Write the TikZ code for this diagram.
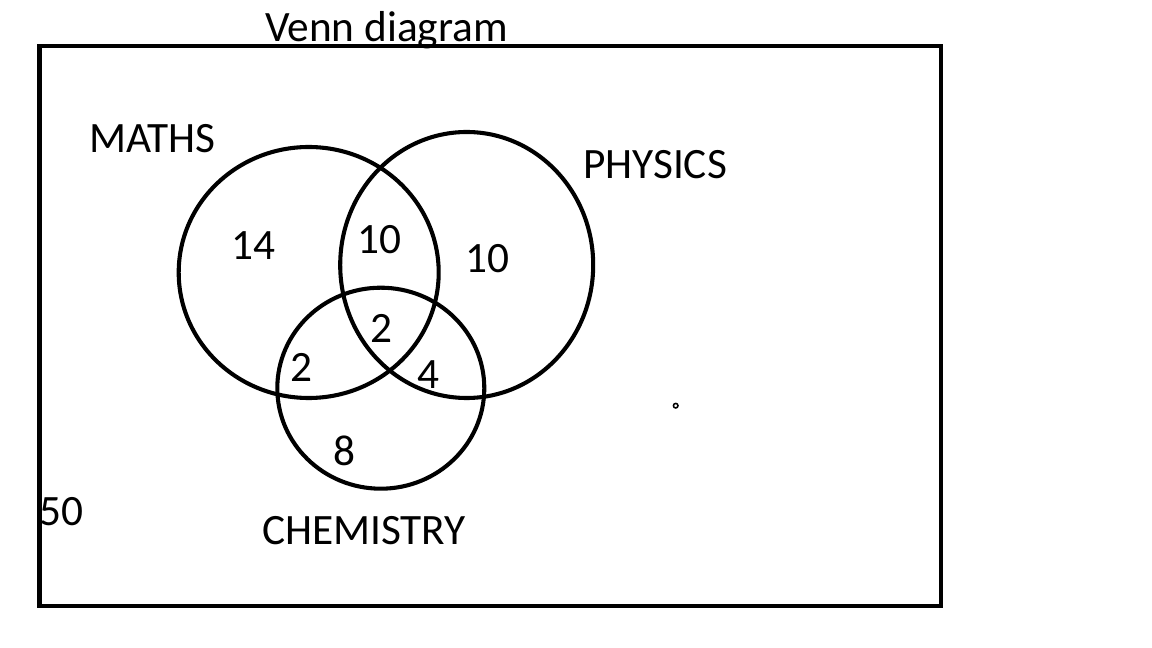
\documentclass[tikz,border=0pt]{standalone}
\usepackage{fontspec}
\setmainfont{Carlito}
\usepackage{tikz}
\usetikzlibrary{positioning}
\definecolor{Ink}{HTML}{000000}
\tikzset{
  frame/.style={draw=Ink,line width=3.3pt},
  setring/.style={draw=Ink,line width=2.9pt},
  setname/.style={anchor=base,inner sep=0pt,text=Ink,font=\fontsize{30.8}{35}\selectfont},
  count/.style={setname}
}

\begin{document}
\begin{tikzpicture}[x=.025cm,y=-.025cm]
\useasboundingbox (0,0) rectangle (1152,648);
\fill[white] (0,0) rectangle (1152,648);
\draw[frame] (39.5,46) rectangle (941,606);
\node[setname] (title) at (386.5,42) {Venn diagram};
% the three sets
\draw[setring] (308.7,272.5) ellipse [x radius=130,y radius=125.5];
\draw[setring] (466.7,265) ellipse [x radius=126.5,y radius=133];
\draw[setring] (380.8,388.2) ellipse [x radius=103.5,y radius=100.5];
\node[setname] (maths) at (152.5,152.5) {MATHS};
\node[setname] (physics) at (655,178.5) {PHYSICS};
\node[setname] (chem) at (364,544.5) {CHEMISTRY};
% region counts
\node[count] (m) at (253,259.5) {14};
\node[count] (mp) at (379.5,253.5) {10};
\node[count] (p) at (487.5,273) {10};
\node[count] (mpc) at (381.5,342.5) {2};
\node[count] (mc) at (301.7,381.5) {2};
\node[count] (pc) at (428,389) {4};
\node[count] (c) at (344.5,465.5) {8};
\node[count] (none) at (61.5,525.5) {50};
\draw[draw=Ink,line width=1.1pt] (675.7,405.7) circle (2.3);
\end{tikzpicture}
\end{document}
